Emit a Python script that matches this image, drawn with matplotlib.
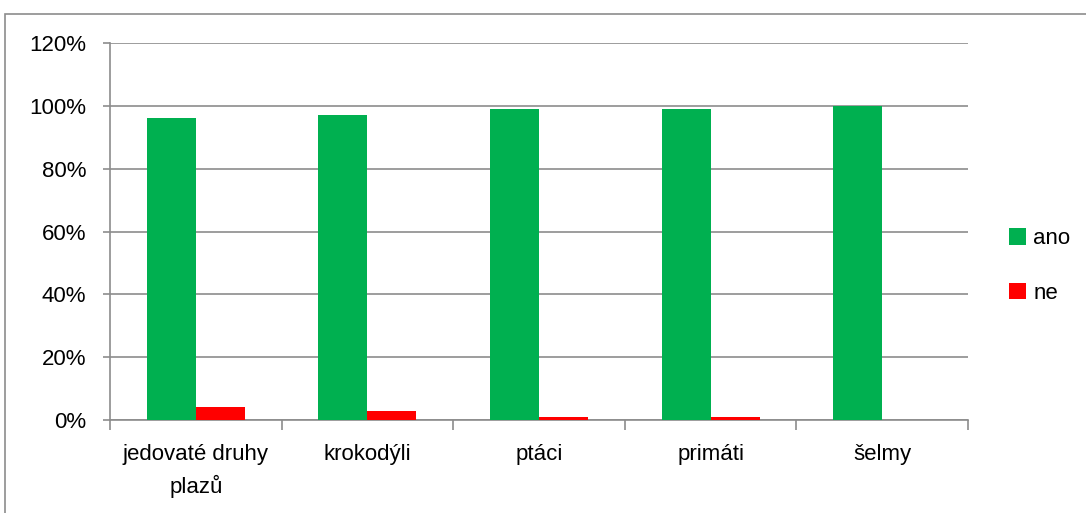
import numpy as np
import matplotlib.pyplot as plt
from matplotlib.patches import Rectangle
from matplotlib.ticker import FuncFormatter, FixedLocator

# data
kategorie = ['jedovaté druhy\nplazů', 'krokodýli', 'ptáci', 'primáti', 'šelmy']
ano = [96, 97, 99, 99, 100]
ne = [4, 3, 1, 1, 0]

plt.rcParams['font.family'] = ['Liberation Sans', 'DejaVu Sans']

W, H = 1086, 513
fig = plt.figure(figsize=(W / 100, H / 100), dpi=100)
ax = fig.add_axes([110 / W, 1 - 420 / H, (968 - 110) / W, (420 - 43) / H])

# outer frame of the chart object
fig.patches.append(Rectangle((5 / W, -0.1), 1.2, 1 - 14 / H + 0.1,
                             transform=fig.transFigure, fill=False,
                             edgecolor='#8c8c8c', linewidth=1.2))

x = np.arange(len(kategorie))
w = 1 / 3.5
ax.bar(x - w / 2, ano, w, color='#00b050', label='ano', zorder=3)
ax.bar(x + w / 2, ne, w, color='#ff0000', label='ne', zorder=3)

ax.set_xlim(-0.5, len(kategorie) - 0.5)
ax.set_ylim(0, 120)
ax.set_yticks(np.arange(0, 121, 20))
ax.yaxis.set_major_formatter(FuncFormatter(lambda v, p: f'{v:.0f}%'))
ax.yaxis.grid(True, color='#8c8c8c', linewidth=1.2, zorder=0)

ax.set_xticks(x)
ax.set_xticklabels(kategorie, fontsize=16, linespacing=1.55)
ax.tick_params(axis='x', length=0, pad=17)
ax.xaxis.set_minor_locator(FixedLocator(np.arange(-0.5, len(kategorie), 1)))
ax.tick_params(axis='x', which='minor', length=7, color='#8c8c8c', width=1.2)
ax.tick_params(axis='y', labelsize=16, length=5, color='#8c8c8c', width=1.2, pad=12)

for s in ['top', 'right']:
    ax.spines[s].set_visible(False)
for s in ['left', 'bottom']:
    ax.spines[s].set_color('#8c8c8c')
    ax.spines[s].set_linewidth(1.2)

fig.legend(loc='center left', bbox_to_anchor=(1009 / W, 1 - 266 / H),
           frameon=False, fontsize=16, handlelength=0.75, handleheight=0.75,
           handletextpad=0.35, labelspacing=1.5, borderpad=0, borderaxespad=0)

fig.savefig('out.png', dpi=100)
